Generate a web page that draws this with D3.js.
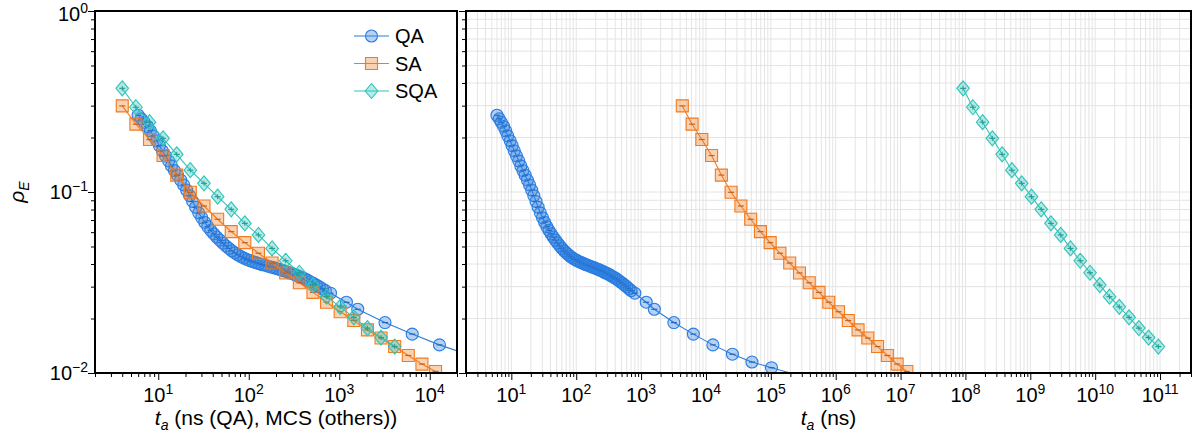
<!DOCTYPE html>
<html>
<head>
<meta charset="utf-8">
<title>rho_E vs anneal time</title>
<script src="https://cdnjs.cloudflare.com/ajax/libs/d3/7.8.5/d3.min.js"></script>
<style>
body{margin:0;background:#fff;}
svg text{font-family:"Liberation Sans",Arial,Helvetica,sans-serif;fill:#000;}
.grid line{stroke:#e4e4e4;stroke-width:1;}
.tick line{stroke:#000;stroke-width:1;}
</style>
</head>
<body>
<svg id="fig" width="1200" height="440"></svg>
<script>
// ---- data ----
// QA : anneal time in ns
var qaT = [6.0,6.5,7.0,7.6,8.2,8.8,9.6,10.3,11.1,12.0,13.0,14.0,15.1,16.3,17.7,19.1,20.6,22.2,24.0,25.9,
           28.0,30.2,32.6,35.2,38.0,41.1,44.3,47.9,51.7,55.8,60.3,65.1,70.3,75.9,81.9,88.5,95.5,103,111,120,
           130,140,151,163,177,191,206,222,240,259,280,302,326,352,380,411,443,479,517,558,603,651,703,
           800,1200,1600,3200,6400,12800,25600,51200,102400];
var qaRho = [0.2655,0.2538,0.2427,0.2301,0.2178,0.2043,0.1919,0.1803,0.1689,0.1584,0.1486,0.1394,0.1314,0.1238,0.1164,0.1094,0.1025,0.0955,0.0887,0.0824,
             0.0767,0.0721,0.0680,0.0644,0.0614,0.0587,0.0564,0.0542,0.0522,0.0504,0.0488,0.0473,0.0461,0.0450,0.0440,0.0431,0.0424,0.0418,0.0412,0.0407,
             0.0402,0.0397,0.0394,0.0389,0.0385,0.0381,0.0377,0.0373,0.0368,0.0364,0.0358,0.0354,0.0349,0.0343,0.0338,0.0332,0.0326,0.0319,0.0313,0.0306,0.0299,0.0292,0.0285,
             0.0276,0.0246,0.0225,0.0190,0.0164,0.0143,0.0127,0.0115,0.0107];
// the QA line carries on past the last marker (below the axis)
var qaTailT = [300000];
var qaTailRho = [0.0096];

// SA : Monte Carlo sweeps
var saMcs = [4,5.66,8,11.3,16,22.6,32,45.3,64,90.5,128,181,256,362,512,724,1024,1448,2048,2896,4096,5793,8192,11585];
var saRho = [0.299,0.237,0.195,0.159,0.124,0.0996,0.0837,0.0707,0.0604,0.0525,0.0459,0.0405,0.0357,0.0315,0.0279,0.0246,0.0218,0.0195,0.0173,0.0156,0.0140,0.0125,0.0112,0.0102];

// SQA : Monte Carlo sweeps
var sqaMcs = [4,5.66,8,11.3,16,22.6,32,45.3,64,90.5,128,181,256,362,512,724,1024,1448,2048,2896,4096];
var sqaRho = [0.374,0.294,0.243,0.198,0.1615,0.132,0.1117,0.0942,0.0802,0.0671,0.0579,0.0488,0.0417,0.0358,0.0306,0.0264,0.0232,0.0203,0.0177,0.0157,0.0140];

// conversion of one sweep into ns for the right panel
var saNsPerMcs = 1080;
var sqaNsPerMcs = 2.3e7;

var seriesNames = ["QA","SA","SQA"];
var colors = {QA:"#2b7de0", SA:"#f27a1f", SQA:"#2fc4ba"};

var yTicksMajor = [0.01,0.1,1];
var yTicksMinor = [0.02,0.03,0.04,0.05,0.06,0.07,0.08,0.09,0.2,0.3,0.4,0.5,0.6,0.7,0.8,0.9];
var xLeftMajor = [10,100,1000,10000];
var xRightMajor = [1e1,1e2,1e3,1e4,1e5,1e6,1e7,1e8,1e9,1e10,1e11];

// ---- layout ----
var svg = d3.select("#fig");
var plotTop = 11, plotBottom = 373;
var leftPanel = {x0:95, x1:457};
var rightPanel = {x0:466, x1:1191};

var y = d3.scaleLog().domain([0.01,1]).range([plotBottom, plotTop]);
var xL = d3.scaleLog().domain([2,2e4]).range([leftPanel.x0, leftPanel.x1]);
var xR = d3.scaleLog().domain([2,3e11]).range([rightPanel.x0, rightPanel.x1]);

function minorsFor(scale){
    var d = scale.domain(), out = [];
    for (var e = -3; e <= 12; e++){
        for (var m = 2; m <= 9; m++){
            var v = m * Math.pow(10, e);
            if (v >= d[0] && v <= d[1]) out.push(v);
        }
    }
    return out;
}

// clip paths
var defs = svg.append("defs");
defs.append("clipPath").attr("id","clipL").append("rect")
    .attr("x",leftPanel.x0).attr("y",plotTop).attr("width",leftPanel.x1-leftPanel.x0).attr("height",plotBottom-plotTop);
defs.append("clipPath").attr("id","clipR").append("rect")
    .attr("x",rightPanel.x0).attr("y",plotTop).attr("width",rightPanel.x1-rightPanel.x0).attr("height",plotBottom-plotTop);

// grid on the right panel
var grid = svg.append("g").attr("class","grid");
grid.selectAll("line.gx")
    .data(xRightMajor.concat(minorsFor(xR)))
    .enter().append("line")
    .attr("x1",function(d){return xR(d);}).attr("x2",function(d){return xR(d);})
    .attr("y1",plotTop).attr("y2",plotBottom);
grid.selectAll("line.gy")
    .data(yTicksMajor.concat(yTicksMinor))
    .enter().append("line")
    .attr("y1",function(d){return y(d);}).attr("y2",function(d){return y(d);})
    .attr("x1",rightPanel.x0).attr("x2",rightPanel.x1);

// ---- markers ----
function markerPath(shape){
    if (shape == "circle") return d3.symbol().type(d3.symbolCircle).size(Math.PI*36)();
    if (shape == "square") return "M-6,-6H6V6H-6Z";
    return "M0,-7.5L6.3,0L0,7.5L-6.3,0Z";
}
var shapes = {QA:"circle", SA:"square", SQA:"diamond"};

function drawSeries(g, xs, ys, xScale, name, tailX, tailY){
    var c = colors[name];
    var pts = xs.map(function(v,i){return [v, ys[i]];});
    var linePts = pts.concat((tailX||[]).map(function(v,i){return [v, tailY[i]];}));
    var line = d3.line()
        .x(function(d){return xScale(d[0]);})
        .y(function(d){return y(d[1]);});
    g.append("path")
        .attr("d", line(linePts))
        .attr("fill","none")
        .attr("stroke", c)
        .attr("stroke-width",1.1);
    var m = g.selectAll("g.m" + name)
        .data(pts)
        .enter().append("g")
        .attr("transform",function(d){return "translate(" + xScale(d[0]) + "," + y(d[1]) + ")";});
    m.append("path")
        .attr("d", markerPath(shapes[name]))
        .attr("fill", c)
        .attr("fill-opacity",0.35)
        .attr("stroke", c)
        .attr("stroke-width",1.1);
    // tiny error bars
    m.append("line")
        .attr("x1",-3).attr("x2",3).attr("y1",0).attr("y2",0)
        .attr("stroke", d3.color(c).darker(0.6))
        .attr("stroke-width",1.2);
    if (name == "SQA"){
        m.append("line")
            .attr("x1",0).attr("x2",0).attr("y1",-2.5).attr("y2",2.5)
            .attr("stroke", d3.color(c).darker(0.6))
            .attr("stroke-width",1);
    }
}

var gL = svg.append("g").attr("clip-path","url(#clipL)");
drawSeries(gL, qaT, qaRho, xL, "QA", qaTailT, qaTailRho);
drawSeries(gL, saMcs, saRho, xL, "SA");
drawSeries(gL, sqaMcs, sqaRho, xL, "SQA");

var gR = svg.append("g").attr("clip-path","url(#clipR)");
drawSeries(gR, qaT, qaRho, xR, "QA", qaTailT, qaTailRho);
drawSeries(gR, saMcs.map(function(v){return v*saNsPerMcs;}), saRho, xR, "SA");
drawSeries(gR, sqaMcs.map(function(v){return v*sqaNsPerMcs;}), sqaRho, xR, "SQA");

// ---- axes ----
function ticks(g, axis){
    g.call(axis);
    g.select(".domain").remove();
    g.selectAll("text").remove();
}
// left panel
ticks(svg.append("g").attr("transform","translate(0," + plotBottom + ")"),
    d3.axisBottom(xL).tickValues(xLeftMajor).tickSize(7).tickSizeOuter(0));
ticks(svg.append("g").attr("transform","translate(0," + plotBottom + ")"),
    d3.axisBottom(xL).tickValues(minorsFor(xL)).tickSize(4).tickSizeOuter(0));
ticks(svg.append("g").attr("transform","translate(" + leftPanel.x0 + ",0)"),
    d3.axisLeft(y).tickValues(yTicksMajor).tickSize(7).tickSizeOuter(0));
ticks(svg.append("g").attr("transform","translate(" + leftPanel.x0 + ",0)"),
    d3.axisLeft(y).tickValues(yTicksMinor).tickSize(4).tickSizeOuter(0));
// right panel
ticks(svg.append("g").attr("transform","translate(0," + plotBottom + ")"),
    d3.axisBottom(xR).tickValues(xRightMajor).tickSize(7).tickSizeOuter(0));
ticks(svg.append("g").attr("transform","translate(0," + plotBottom + ")"),
    d3.axisBottom(xR).tickValues(minorsFor(xR)).tickSize(4).tickSizeOuter(0));
ticks(svg.append("g").attr("transform","translate(" + rightPanel.x0 + ",0)"),
    d3.axisLeft(y).tickValues(yTicksMajor).tickSize(7).tickSizeOuter(0));
ticks(svg.append("g").attr("transform","translate(" + rightPanel.x0 + ",0)"),
    d3.axisLeft(y).tickValues(yTicksMinor).tickSize(4).tickSizeOuter(0));

// frames
[leftPanel, rightPanel].forEach(function(p){
    svg.append("rect")
        .attr("x",p.x0).attr("y",plotTop)
        .attr("width",p.x1-p.x0).attr("height",plotBottom-plotTop)
        .attr("fill","none").attr("stroke","#000").attr("stroke-width",2);
});

// power-of-ten labels
function powLabel(sel, v){
    var e = Math.round(Math.log10(v));
    sel.append("tspan").text("10");
    sel.append("tspan").attr("dy",-8).attr("font-size",14).text(e < 0 ? "\u2212" + (-e) : e);
}
xLeftMajor.forEach(function(v){
    powLabel(svg.append("text").attr("x",xL(v)).attr("y",402)
        .attr("text-anchor","middle").attr("font-size",20), v);
});
xRightMajor.forEach(function(v){
    powLabel(svg.append("text").attr("x",xR(v)).attr("y",402)
        .attr("text-anchor","middle").attr("font-size",20), v);
});
yTicksMajor.forEach(function(v){
    powLabel(svg.append("text").attr("x",88).attr("y",Math.max(y(v)+7, 21))
        .attr("text-anchor","end").attr("font-size",20), v);
});

// axis titles
var xt1 = svg.append("text").attr("x",(leftPanel.x0+leftPanel.x1)/2).attr("y",425)
    .attr("text-anchor","middle").attr("font-size",21);
xt1.append("tspan").attr("font-style","italic").text("t");
xt1.append("tspan").attr("font-style","italic").attr("font-size",14).attr("dy",5).text("a");
xt1.append("tspan").attr("dy",-5).text(" (ns (QA), MCS (others))");

var xt2 = svg.append("text").attr("x",(rightPanel.x0+rightPanel.x1)/2).attr("y",425)
    .attr("text-anchor","middle").attr("font-size",21);
xt2.append("tspan").attr("font-style","italic").text("t");
xt2.append("tspan").attr("font-style","italic").attr("font-size",14).attr("dy",5).text("a");
xt2.append("tspan").attr("dy",-5).text(" (ns)");

var yt = svg.append("text")
    .attr("transform","translate(24," + ((plotTop+plotBottom)/2) + ") rotate(-90)")
    .attr("text-anchor","middle").attr("font-size",21);
yt.append("tspan").attr("font-style","italic").text("\u03c1");
yt.append("tspan").attr("font-style","italic").attr("font-size",14).attr("dy",5).text("E");

// legend
var legendRows = [36, 63.5, 91];
seriesNames.forEach(function(name, i){
    var g = svg.append("g").attr("transform","translate(0," + legendRows[i] + ")");
    var c = colors[name];
    g.append("line").attr("x1",354).attr("x2",389).attr("y1",0).attr("y2",0)
        .attr("stroke",c).attr("stroke-width",1.1);
    g.append("path").attr("transform","translate(371.5,0)")
        .attr("d", markerPath(shapes[name]))
        .attr("fill",c).attr("fill-opacity",0.35)
        .attr("stroke",c).attr("stroke-width",1.1);
    g.append("text").attr("x",395).attr("y",7).attr("font-size",20).text(name);
});
</script>
</body>
</html>
